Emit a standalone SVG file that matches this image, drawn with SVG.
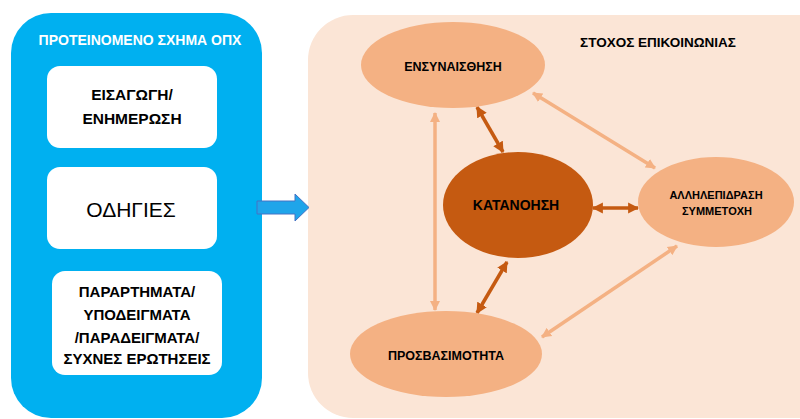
<svg xmlns="http://www.w3.org/2000/svg" width="800" height="419" viewBox="0 0 800 419">
<style>
text{font-family:"Liberation Sans",Arial,sans-serif;text-anchor:middle;fill:#000}
.b{font-weight:bold}
.card{fill:#fff}
.lt{fill:#f4b183}
.lk{stroke:#f4b183;stroke-width:3.5;fill:none}
.dk{stroke:#c55a11;stroke-width:3.5;fill:none}
</style>
<defs>
<marker id="ah-l" viewBox="0 0 10 10" refX="9" refY="5" markerWidth="10" markerHeight="11" markerUnits="userSpaceOnUse" orient="auto-start-reverse"><path d="M0,0 L10,5 L0,10 z" fill="#f4b183"/></marker>
<marker id="ah-d" viewBox="0 0 10 10" refX="9" refY="5" markerWidth="11" markerHeight="12" markerUnits="userSpaceOnUse" orient="auto-start-reverse"><path d="M0,0 L10,5 L0,10 z" fill="#c55a11"/></marker>
</defs>
<rect width="800" height="419" fill="#fff"/>
<g id="panel-left">
<rect x="11" y="13" width="251" height="405" rx="40" fill="#00b0f0"/>
<text x="140" y="45" class="b" font-size="14" style="fill:#fff">ΠΡΟΤΕΙΝΟΜΕΝΟ ΣΧΗΜΑ ΟΠΧ</text>
</g>
<g id="box-intro">
<rect x="47" y="66" width="170" height="82" rx="13" class="card"/>
<text x="132" y="100" class="b" font-size="15.5">ΕΙΣΑΓΩΓΗ/</text>
<text x="132" y="124" class="b" font-size="15.5">ΕΝΗΜΕΡΩΣΗ</text>
</g>
<g id="box-odigies">
<rect x="47" y="167" width="170" height="82" rx="13" class="card"/>
<text x="131" y="217" font-size="21">ΟΔΗΓΙΕΣ</text>
</g>
<g id="box-parartimata">
<rect x="52" y="271" width="170" height="104" rx="13" class="card"/>
<text x="137" y="297" class="b" font-size="15">ΠΑΡΑΡΤΗΜΑΤΑ/</text>
<text x="137" y="320" class="b" font-size="15">ΥΠΟΔΕΙΓΜΑΤΑ</text>
<text x="137" y="343" class="b" font-size="15">/ΠΑΡΑΔΕΙΓΜΑΤΑ/</text>
<text x="137" y="364" class="b" font-size="15">ΣΥΧΝΕΣ ΕΡΩΤΗΣΕΙΣ</text>
</g>
<g id="panel-right">
<rect x="308" y="15" width="560" height="403" rx="45" fill="#fbe5d6"/>
<text x="658" y="47" class="b" font-size="13.5">ΣΤΟΧΟΣ ΕΠΙΚΟΙΝΩΝΙΑΣ</text>
</g>
<g id="connectors">
<path d="M257,201 H295 V194 L309,207.5 L295,221 V214 H257 Z" fill="#1fa5ea" stroke="#4472c4" stroke-width="1"/>
<line x1="435" y1="113" x2="435" y2="310" class="lk" marker-start="url(#ah-l)" marker-end="url(#ah-l)"/>
<line x1="533" y1="93" x2="655" y2="168" class="lk" marker-start="url(#ah-l)" marker-end="url(#ah-l)"/>
<line x1="677" y1="246" x2="542" y2="337" class="lk" marker-start="url(#ah-l)" marker-end="url(#ah-l)"/>
<line x1="477" y1="107" x2="503" y2="152" class="dk" marker-start="url(#ah-d)" marker-end="url(#ah-d)"/>
<line x1="593" y1="208" x2="638" y2="208" class="dk" marker-start="url(#ah-d)" marker-end="url(#ah-d)"/>
<line x1="507" y1="262" x2="477" y2="313" class="dk" marker-start="url(#ah-d)" marker-end="url(#ah-d)"/>
</g>
<g id="node-ensynaisthisi">
<ellipse cx="453" cy="65" rx="92" ry="43" class="lt"/>
<text x="453" y="71" class="b" font-size="12.5">ΕΝΣΥΝΑΙΣΘΗΣΗ</text>
</g>
<g id="node-katanoisi">
<ellipse cx="518" cy="205" rx="75" ry="53" fill="#c55a11"/>
<text x="516" y="210" class="b" font-size="14">ΚΑΤΑΝΟΗΣΗ</text>
</g>
<g id="node-allilepidrasi">
<ellipse cx="716" cy="202" rx="78" ry="45" class="lt"/>
<text x="716" y="199" class="b" font-size="11">ΑΛΛΗΛΕΠΙΔΡΑΣΗ</text>
<text x="717" y="215" class="b" font-size="11">ΣΥΜΜΕΤΟΧΗ</text>
</g>
<g id="node-prosvasimotita">
<ellipse cx="446" cy="354" rx="96" ry="43" class="lt"/>
<text x="446" y="360" class="b" font-size="12.5">ΠΡΟΣΒΑΣΙΜΟΤΗΤΑ</text>
</g>
</svg>
